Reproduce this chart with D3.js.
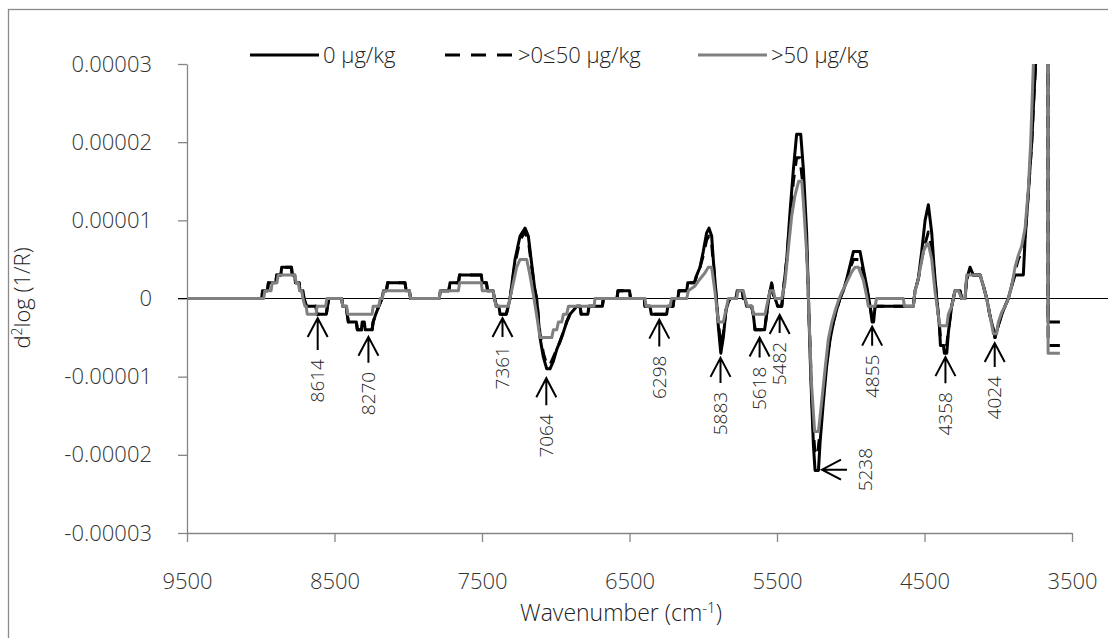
<!DOCTYPE html>
<html>
<head>
<meta charset="utf-8">
<script src="https://cdn.jsdelivr.net/npm/d3@7"></script>
<style>
  body { margin: 0; background: #fff; }
  text { font-family: "Open Sans", "Noto Sans", sans-serif; font-weight: 300; }
</style>
</head>
<body>
<script>
// values are in units of 1e-6
var UNIT = 1e-6;

var seriesNames = ['0 µg/kg', '>0≤50 µg/kg', '>50 µg/kg'];

// 0 ug/kg (black solid)
var ctrl = [
  [9500,0],[8994,0],[8988,1],[8955,1],[8948,2],[8898,2],[8892,3],[8864,3],[8858,4],[8792,4],[8786,3],[8770,3],
  [8764,2],[8740,2],[8734,1],[8714,1],[8707,0],[8690,-1],[8625,-1],[8620,-2],[8555,-2],[8548,-1],[8538,0],
  [8451,0],[8444,-1],[8420,-1],[8414,-2],[8406,-3],[8352,-3],[8345,-4],[8318,-4],[8312,-3],[8298,-3],[8292,-4],
  [8245,-4],[8238,-3],[8220,-2],[8200,-1],[8178,0],[8168,1],[8148,1],[8140,2],[8022,2],[8014,1],[7992,1],[7984,0],
  [7790,0],[7782,1],[7725,1],[7717,2],[7660,2],[7652,3],[7505,3],[7498,2],[7470,2],[7462,1],[7425,1],[7415,0],
  [7402,-1],[7385,-1],[7378,-2],[7335,-2],[7322,-1],[7310,0],[7276,5],[7242,8],[7208,9],[7186,8],[7163,4.4],
  [7141,1],[7129,0],[7107,-5],[7084,-7.5],[7061,-9],[7039,-9],[7016,-8],[6993,-6.5],[6971,-5.5],[6948,-4.3],
  [6926,-3],[6903,-2],[6880,-1.5],[6858,-1],[6835,-1],[6828,-2],[6782,-2],[6775,-1],[6684,-1],[6677,0],[6585,0],
  [6578,1],[6500,1],[6493,0],[6400,0],[6395,-1],[6361,-1],[6352,-2],[6248,-2],[6240,-1],[6205,-1],[6198,0],
  [6172,0],[6165,1],[6112,1],[6105,2],[6060,2],[6044,3],[6022,4],[6000,6],[5977,8.4],[5961,9],[5943,8],[5932,5],
  [5913,0.5],[5898,-3.5],[5881,-7],[5864,-5],[5846,-1.5],[5830,-0.5],[5818,0],[5778,0],[5770,1],[5735,1],[5728,0],
  [5717,0],[5706,-1],[5672,-1],[5661,-2],[5649,-4],[5584,-4],[5570,-2],[5552,0.5],[5536,2],[5525,0.5],[5513,0],
  [5495,-1],[5468,-1],[5457,1],[5434,5],[5412,11],[5389,16.5],[5367,21],[5339,21],[5321,16.5],[5299,8.4],[5287,0.3],
  [5276,-7],[5265,-13],[5253,-18.8],[5242,-22],[5219,-22],[5208,-18.4],[5186,-13.3],[5163,-8.6],[5140,-5.2],
  [5118,-3.1],[5095,-1.4],[5073,0],[5050,1],[5027,2.5],[5005,4.2],[4982,6],[4937,6],[4914,3.7],[4892,1.6],
  [4869,-1],[4855,-3],[4845,-3],[4835,-1],[4576,-1],[4564,1],[4542,2.5],[4519,6],[4496,10],[4474,12],[4451,8.4],
  [4435,4],[4417,0],[4399,-3.5],[4392,-6],[4372,-6],[4365,-7],[4349,-7],[4338,-4.3],[4316,-1],[4293,1],[4259,1],
  [4248,0],[4225,0],[4214,2.5],[4191,4],[4169,3],[4123,3],[4101,1.6],[4078,0],[4056,-2.2],[4033,-4],[4022,-5],
  [3999,-3.4],[3977,-2.1],[3954,-1],[3932,0],[3909,1.6],[3886,3],[3830,3],[3818,7.6],[3796,13.5],[3773,20],
  [3758,26],[3744,31],[3668,250],[3662,-3],[3582,-3]
];

// >0<=50 ug/kg (black dashed)
var low = [
  [9500,0],[8994,0],[8988,1],[8955,1],[8948,2],[8898,2],[8892,3],[8864,3],[8858,4],[8792,4],[8786,3],[8770,3],
  [8764,2],[8740,2],[8734,1],[8714,1],[8707,0],[8690,-1],[8625,-1],[8620,-2],[8555,-2],[8548,-1],[8538,0],
  [8451,0],[8444,-1],[8420,-1],[8414,-2],[8406,-3],[8352,-3],[8345,-4],[8245,-4],[8238,-3],[8220,-2],[8200,-1],
  [8178,0],[8168,1],[8148,1],[8140,2],[8022,2],[8014,1],[7992,1],[7984,0],
  [7790,0],[7782,1],[7725,1],[7717,2],[7660,2],[7652,3],[7505,3],[7498,2],[7470,2],[7462,1],[7425,1],[7415,0],
  [7402,-1],[7385,-1],[7378,-2],[7335,-2],[7322,-1],[7310,0],[7276,4.5],[7242,7.5],[7208,8.5],[7186,7.5],[7163,4],
  [7141,1],[7129,0],[7107,-4.5],[7084,-7],[7061,-8.5],[7039,-8.5],[7016,-7.5],[6993,-6.5],[6971,-5.5],[6948,-4.3],
  [6926,-3],[6903,-2],[6880,-1.5],[6858,-1],[6835,-1],[6828,-2],[6782,-2],[6775,-1],[6684,-1],[6677,0],[6585,0],
  [6578,1],[6500,1],[6493,0],[6400,0],[6395,-1],[6361,-1],[6352,-2],[6248,-2],[6240,-1],[6205,-1],[6198,0],
  [6172,0],[6165,1],[6112,1],[6105,2],[6060,2],[6044,3],[6022,4],[6000,5.5],[5977,7.5],[5961,8],[5943,7],[5932,4.5],
  [5913,0.5],[5898,-3],[5881,-6],[5864,-4.5],[5846,-1.5],[5830,-0.5],[5818,0],[5778,0],[5770,1],[5735,1],[5728,0],
  [5717,0],[5706,-1],[5672,-1],[5661,-2],[5649,-4],[5584,-4],[5570,-2],[5552,0.5],[5536,2],[5525,0.5],[5513,0],
  [5495,-1],[5468,-1],[5457,1],[5434,5],[5412,10],[5389,15],[5367,18],[5345,18],[5321,14],[5299,7],[5287,0],
  [5276,-6],[5265,-12],[5253,-17],[5242,-20],[5225,-20],[5208,-17],[5186,-12],[5163,-8],[5140,-5],
  [5118,-3],[5095,-1.4],[5073,0],[5050,1],[5027,2.3],[5005,3.8],[4982,5],[4937,5],[4914,3.2],[4892,1.3],
  [4869,-1],[4855,-2.5],[4845,-2.5],[4835,-1],[4576,-1],[4564,1],[4542,2.5],[4519,5],[4496,7],[4474,8.5],[4451,6.5],
  [4435,3.5],[4417,0],[4399,-3.5],[4392,-5],[4349,-6],[4338,-4],[4316,-1],[4293,1],[4259,1],
  [4248,0],[4225,0],[4214,2.5],[4191,3.5],[4169,3],[4123,3],[4101,1.6],[4078,0],[4056,-2.2],[4033,-4],[4022,-5],
  [3999,-3.4],[3977,-2.1],[3954,-1],[3932,0],[3909,1.6],[3886,3.5],[3864,5],[3841,6],[3818,8],[3796,13.5],[3773,20],
  [3758,26],[3744,31],[3668,250],[3662,-6],[3582,-6]
];

// >50 ug/kg (grey)
var high = [
  [9500,0],[8980,0],[8972,1],[8930,1],[8922,2],[8890,2],[8882,3],[8768,3],[8760,2],[8745,2],[8737,1],[8722,1],
  [8714,0],[8700,-1],[8692,-1],[8685,-2],[8625,-2],[8618,-1],[8560,-1],[8552,0],[8451,0],[8444,-1],[8418,-1],
  [8410,-2],[8245,-2],[8238,-1],[8200,-1],[8190,0],[8176,0],[8166,1],[7992,1],[7984,0],[7790,0],[7782,1],[7660,1],
  [7652,2],[7505,2],[7498,1],[7425,1],[7415,0],[7405,-1],[7322,-1],[7299,1],[7276,3],[7265,4],[7242,5],[7197,5],
  [7175,3],[7152,0.5],[7129,-2.2],[7107,-5],[7027,-5],[7016,-4],[6993,-4],[6982,-3],[6959,-3],[6948,-2],[6926,-2],
  [6914,-1],[6740,-1],[6734,0],[6395,0],[6388,-1],[6225,-1],[6215,0],[6112,0],[6101,1],[6056,1.6],[6022,2.5],
  [5988,3.3],[5966,4],[5943,4],[5920,0.8],[5898,-3],[5864,-3],[5841,-1],[5830,0],[5773,0],[5765,1],[5728,1],
  [5717,0],[5700,-1],[5668,-1],[5661,-2],[5581,-2],[5570,-1],[5547,1],[5525,1],[5513,0],[5468,0],[5446,2],
  [5423,6.4],[5400,10.6],[5378,13.2],[5353,15],[5332,15],[5321,12.3],[5299,5.9],[5287,0.3],[5276,-6.1],
  [5265,-11.2],[5245,-17],[5219,-17],[5197,-13.2],[5174,-9],[5152,-5.2],[5129,-3.1],[5106,-1.6],[5084,-0.3],
  [5061,0.8],[5027,2.1],[4993,3.4],[4971,4],[4948,4],[4914,2.3],[4892,0.3],[4881,-1],[4835,-1],[4825,0],[4644,0],
  [4636,-1],[4576,-1],[4564,1],[4542,2.5],[4508,6],[4485,7],[4474,7],[4451,5],[4428,0.8],[4406,-2.2],[4395,-3.5],
  [4349,-3.5],[4338,-2],[4316,-1],[4293,1],[4270,1],[4248,0],[4225,0],[4214,3],[4123,3],[4101,1.6],[4078,0],
  [4056,-2.2],[4033,-4.5],[4011,-4.5],[3999,-3],[3977,-1.8],[3954,-1],[3932,0],[3909,1.6],[3886,4],[3864,5.5],
  [3841,6.7],[3818,9],[3796,14],[3780,20],[3760,31],[3668,250],[3662,-7],[3582,-7]
];

var xTicks = [9500, 8500, 7500, 6500, 5500, 4500, 3500];
var yTicks = [-3e-5, -2e-5, -1e-5, 0, 1e-5, 2e-5, 3e-5];

// marked bands: label, tip value (x1e-6), arrow length in px
var bandLabels = [8614, 8270, 7361, 7064, 6298, 5883, 5618, 5482, 4855, 4358, 4024];
var bandTips = [-2.5, -4.9, -2.5, -10.2, -2.7, -7.6, -5.0, -2.1, -3.6, -7.5, -5.7];
var bandLens = [32, 26, 19, 27, 27, 25, 20, 18, 19, 26, 24];
// the one band marked from the side
var sideBand = { label: 5238, wave: 5195, tip: -21.9 };

var W = 1108, H = 638;
var svg = d3.select('body').append('svg').attr('width', W).attr('height', H);

svg.append('rect')
  .attr('x', 8.5).attr('y', 9.5).attr('width', 1200).attr('height', 700)
  .attr('fill', 'none').attr('stroke', '#8a8a8a').attr('stroke-width', 1.3);

var x = d3.scaleLinear().domain([9500, 3500]).range([187, 1072]);
var y = d3.scaleLinear().domain([-3e-5, 3e-5]).range([533, 64]);

svg.append('clipPath').attr('id', 'plot')
  .append('rect').attr('x', 187).attr('y', 64).attr('width', W - 187).attr('height', 469);

var fmt = v => Math.abs(v) < 1e-12 ? '0' : v.toFixed(5);

var axisColor = '#868686';
var gy = svg.append('g').attr('transform', 'translate(187,0)')
  .call(d3.axisLeft(y).tickValues(yTicks).tickSize(9).tickSizeOuter(0).tickPadding(26).tickFormat(fmt));
var gx = svg.append('g').attr('transform', 'translate(0,533)')
  .call(d3.axisBottom(x).tickValues(xTicks).tickSize(9).tickSizeOuter(0).tickPadding(31).tickFormat(d3.format('d')));
[gx, gy].forEach(g => {
  g.select('.domain').attr('stroke', axisColor).attr('stroke-width', 1.3);
  g.selectAll('.tick line').attr('stroke', axisColor).attr('stroke-width', 1.3);
  g.selectAll('.tick text').attr('fill', '#333').style('font-size', '22px')
    .style('font-family', '"Open Sans", sans-serif').style('font-weight', 300);
});

// zero line
svg.append('line')
  .attr('x1', 178).attr('x2', W).attr('y1', y(0)).attr('y2', y(0))
  .attr('stroke', '#000').attr('stroke-width', 1);

var line = d3.line().x(d => x(d[0])).y(d => y(d[1] * UNIT));
var styles = [
  { data: ctrl, color: '#000', dash: null },
  { data: low, color: '#000', dash: '12,9' },
  { data: high, color: '#808080', dash: null }
];
var plot = svg.append('g').attr('clip-path', 'url(#plot)');
styles.forEach(s => {
  plot.append('path')
    .attr('d', line(s.data))
    .attr('fill', 'none')
    .attr('stroke', s.color)
    .attr('stroke-width', 3)
    .attr('stroke-linejoin', 'round')
    .attr('stroke-dasharray', s.dash);
});

// legend
var legX = [250, 445, 698];
seriesNames.forEach((name, i) => {
  var g = svg.append('g').attr('transform', 'translate(' + legX[i] + ',55)');
  g.append('line').attr('x1', 0).attr('x2', 69).attr('y1', 0).attr('y2', 0)
    .attr('stroke', styles[i].color).attr('stroke-width', 3)
    .attr('stroke-dasharray', styles[i].dash ? '15,11' : null);
  g.append('text').attr('x', 73).attr('y', 8).attr('font-size', 22).attr('fill', '#222').text(name);
});

// arrows and labels
var ann = svg.append('g').attr('stroke', '#000').attr('stroke-width', 2).attr('fill', 'none');
bandLabels.forEach((lab, i) => {
  var ax = x(lab);
  var tip = y(bandTips[i] * UNIT);
  var tail = tip + bandLens[i];
  ann.append('path')
    .attr('d', 'M' + ax + ',' + tip + 'L' + ax + ',' + tail +
      'M' + (ax - 10) + ',' + (tip + 19) + 'L' + ax + ',' + tip + 'L' + (ax + 10) + ',' + (tip + 19));
  svg.append('text')
    .attr('transform', 'translate(' + ax + ',' + (tail + 9) + ') rotate(-90)')
    .attr('text-anchor', 'end').attr('dy', '0.35em')
    .attr('font-size', 19).attr('fill', '#222')
    .text(lab);
});
var sx = x(sideBand.wave), sy = y(sideBand.tip * UNIT);
ann.append('path')
  .attr('d', 'M' + sx + ',' + sy + 'L' + (sx + 25) + ',' + sy +
    'M' + (sx + 19) + ',' + (sy - 10) + 'L' + sx + ',' + sy + 'L' + (sx + 19) + ',' + (sy + 10));
svg.append('text')
  .attr('transform', 'translate(' + (sx + 43) + ',' + sy + ') rotate(-90)')
  .attr('text-anchor', 'middle').attr('dy', '0.35em')
  .attr('font-size', 19).attr('fill', '#222')
  .text(sideBand.label);

// axis titles
var yt = svg.append('text')
  .attr('transform', 'translate(22,298) rotate(-90)')
  .attr('text-anchor', 'middle').attr('dy', '0.35em')
  .attr('font-size', 22).attr('fill', '#222');
yt.append('tspan').text('d');
yt.append('tspan').attr('dy', -8).attr('font-size', 14).text('2');
yt.append('tspan').attr('dy', 8).text('log (1/R)');

var xt = svg.append('text')
  .attr('x', 621).attr('y', 621)
  .attr('text-anchor', 'middle')
  .attr('font-size', 23).attr('fill', '#222');
xt.append('tspan').text('Wavenumber (cm');
xt.append('tspan').attr('dy', -8).attr('font-size', 15).text('-1');
xt.append('tspan').attr('dy', 8).text(')');
</script>
</body>
</html>
